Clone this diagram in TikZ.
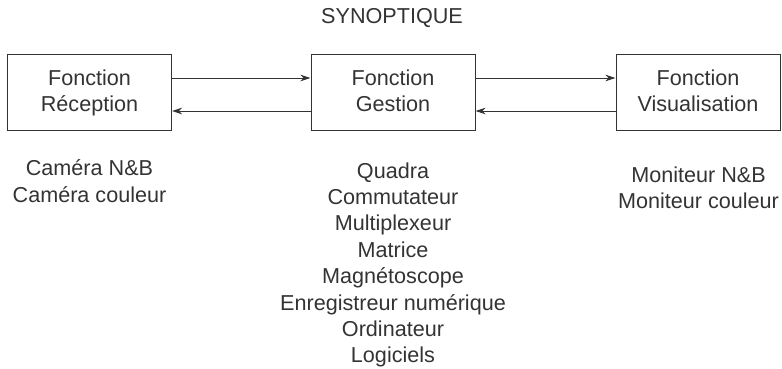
\documentclass[tikz,border=0pt]{standalone}
\usepackage{fontspec}
\setmainfont{Liberation Sans}
\usetikzlibrary{arrows.meta}
\definecolor{ink}{HTML}{333333}
\tikzset{
  box/.style={draw=ink, line width=1pt, minimum width=164pt, minimum height=75pt, inner sep=0pt},
  lbl/.style={text=ink, inner sep=0pt, anchor=base, font=\fontsize{21.6}{26}\selectfont},
  conn/.style={draw=ink, line width=0.9pt, -{Stealth[length=10pt, width=6.5pt, inset=3pt]}}
}
\begin{document}
\begin{tikzpicture}[x=1pt, y=-1pt]
\useasboundingbox (0,0) rectangle (782,369);
\node[lbl] (title) at (392,23.5) {SYNOPTIQUE};
% boxes
\node[box] (b1) at (89.5,92.5) {};
\node[box] (b2) at (393,92.5) {};
\node[box] (b3) at (698,92.5) {};
% box texts
\node[lbl] (b1a) at (89.5,85.7) {Fonction};
\node[lbl] (b1b) at (89.5,111.7) {Réception};
\node[lbl] (b2a) at (393,85.7) {Fonction};
\node[lbl] (b2b) at (393,111.7) {Gestion};
\node[lbl] (b3a) at (698,85.7) {Fonction};
\node[lbl] (b3b) at (698,111.7) {Visualisation};
% connectors
\draw[conn] ([yshift=14.5pt]b1.east) -- ([yshift=14.5pt]b2.west);
\draw[conn] ([yshift=-18.5pt]b2.west) -- ([yshift=-18.5pt]b1.east);
\draw[conn] ([yshift=14.5pt]b2.east) -- ([yshift=14.5pt]b3.west);
\draw[conn] ([yshift=-18.5pt]b3.west) -- ([yshift=-18.5pt]b2.east);
% lists
\node[lbl] (l1) at (89.5,175) {Caméra N\&B};
\node[lbl] (l2) at (89.5,202) {Caméra couleur};
\foreach \t [count=\i] in {Quadra,Commutateur,Multiplexeur,Matrice,Magnétoscope,Enregistreur numérique,Ordinateur,Logiciels}
  \node[lbl] (m\i) at (393,{178+26.4*(\i-1)}) {\t};
\node[lbl] (r1) at (698.5,182) {Moniteur N\&B};
\node[lbl] (r2) at (698.5,208.5) {Moniteur couleur};
\end{tikzpicture}
\end{document}
